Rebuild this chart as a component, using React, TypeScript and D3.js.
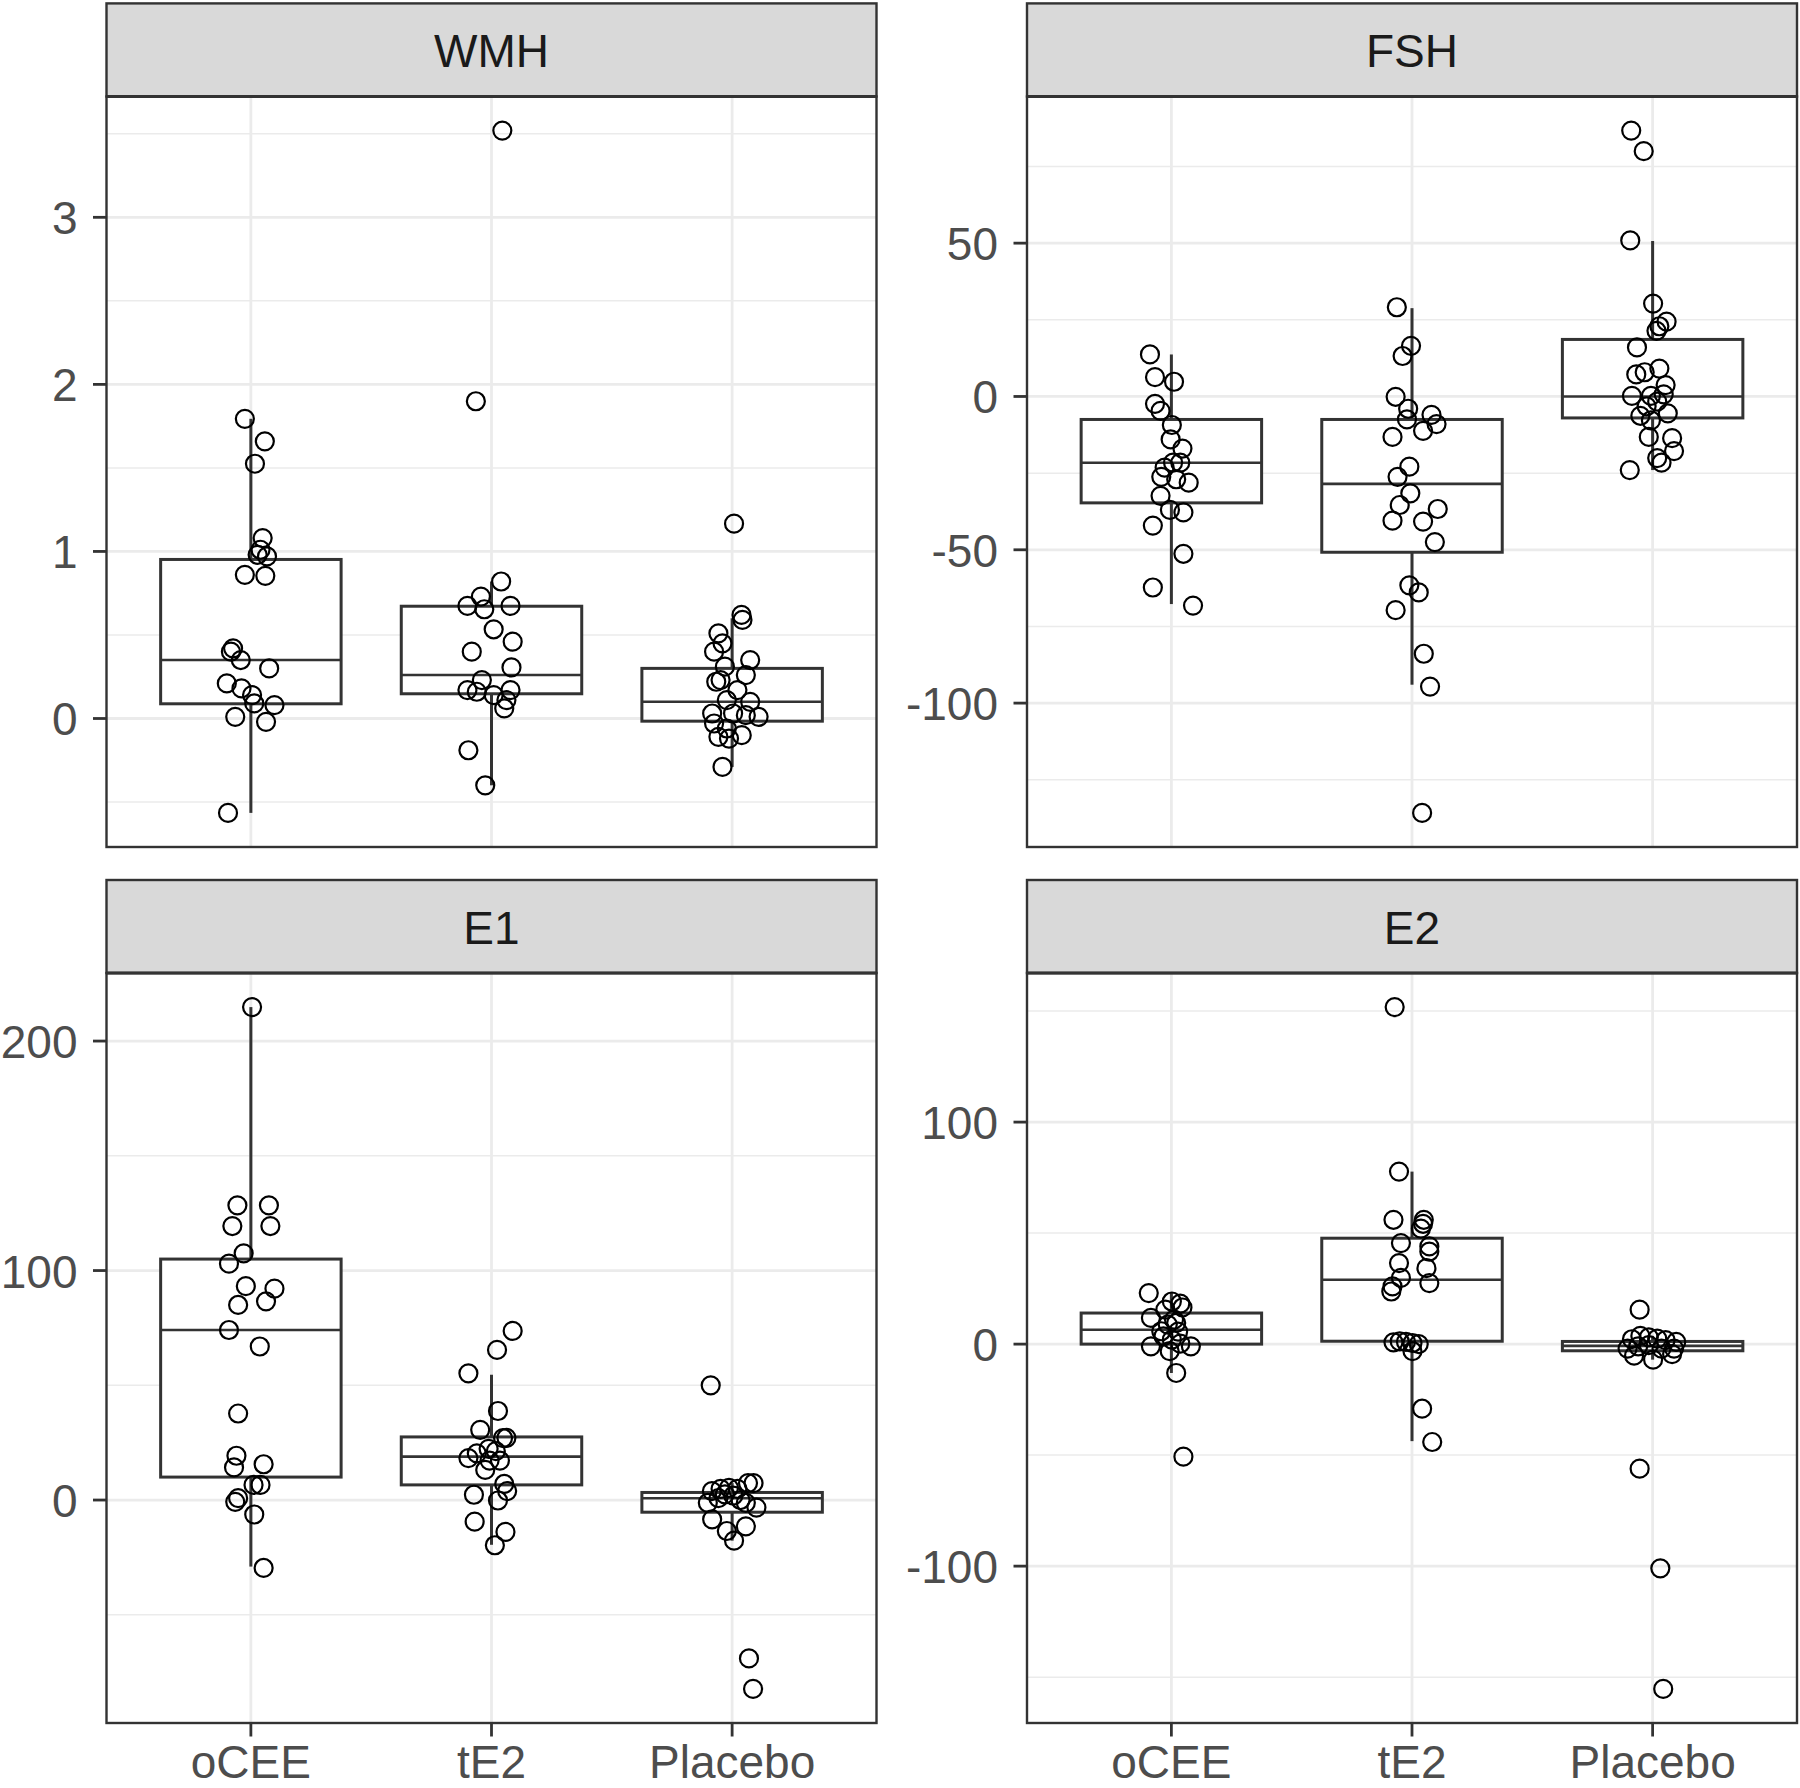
import React, { useEffect } from "react";
import * as d3 from "d3";

// ---------- data ----------
const categories = ["oCEE", "tE2", "Placebo"];
const facetNames = ["WMH", "FSH", "E1", "E2"];

// points: [value, horizontal jitter in category units]
const wmhOcee = [[1.794,-0.025],[1.659,0.058],[1.525,0.017],[1.08,0.049],[1.01,0.04],[0.97,0.067],[0.98,0.028],[0.86,-0.025],[0.854,0.06],[0.42,-0.074],[0.4,-0.083],[0.35,-0.042],[0.3,0.076],[0.21,-0.1],[0.18,-0.039],[0.14,0.005],[0.09,0.014],[0.08,0.098],[0.01,-0.065],[-0.02,0.063],[-0.565,-0.095]];
const wmhTe2 = [[3.519,0.045],[1.899,-0.065],[0.82,0.04],[0.73,-0.044],[0.674,-0.1],[0.654,-0.03],[0.674,0.079],[0.534,0.009],[0.46,0.088],[0.4,-0.082],[0.306,0.083],[0.23,-0.04],[0.17,-0.1],[0.16,-0.061],[0.14,0.009],[0.17,0.079],[0.11,0.062],[0.06,0.053],[-0.19,-0.096],[-0.4,-0.026]];
const wmhPlacebo = [[1.166,0.008],[0.62,0.039],[0.59,0.043],[0.51,-0.057],[0.45,-0.04],[0.4,-0.075],[0.35,0.075],[0.31,-0.03],[0.23,-0.048],[0.22,-0.066],[0.26,0.057],[0.17,0.022],[0.11,-0.022],[0.1,0.075],[0.03,-0.083],[0.01,0.11],[0.02,0.057],[0.03,0.004],[-0.03,-0.075],[-0.06,-0.022],[-0.1,0.04],[-0.11,-0.057],[-0.12,-0.013],[-0.29,-0.04]];

const fshOcee = [[13.7,-0.089],[6.3,-0.068],[4.8,0.011],[-2.4,-0.068],[-4.7,-0.045],[-9.3,0.002],[-14,-0.003],[-17,0.046],[-21.6,0.007],[-21.6,0.037],[-23.2,-0.028],[-26.2,-0.042],[-27,0.02],[-28.1,0.072],[-32.4,-0.045],[-37,-0.006],[-37.8,0.05],[-42.1,-0.077],[-51.3,0.05],[-62.3,-0.077],[-68.2,0.09]];
const fshTe2 = [[29.1,-0.063],[16.5,-0.004],[13.2,-0.039],[-0.1,-0.068],[-4,-0.016],[-6,0.081],[-9,0.102],[-7.5,-0.021],[-11.2,0.046],[-13.2,-0.081],[-22.9,-0.011],[-26.2,-0.06],[-31.6,-0.007],[-35.4,-0.051],[-36.7,0.107],[-40.5,-0.081],[-40.8,0.046],[-47.5,0.095],[-61.6,-0.011],[-63.9,0.028],[-69.7,-0.068],[-83.9,0.049],[-94.6,0.075],[-135.8,0.042]];
const fshPlacebo = [[86.7,-0.089],[80,-0.037],[50.9,-0.093],[30.3,0.002],[24.4,0.058],[22.9,0.028],[21.4,0.016],[16,-0.065],[7.2,-0.068],[9.1,0.028],[7.9,-0.033],[3.7,0.054],[0.2,-0.086],[0.2,-0.007],[0.7,0.046],[-3.2,-0.025],[-1.7,0.019],[-6.3,-0.051],[-5.5,0.063],[-7.8,-0.007],[-13.2,-0.016],[-13.6,0.081],[-17.8,0.089],[-20.1,0.019],[-21.6,0.037],[-24,-0.095]];

const e1Ocee = [[214.8,0.005],[128.4,-0.056],[128.4,0.075],[119.4,-0.077],[119.4,0.081],[107.5,-0.03],[103,-0.091],[93.2,-0.021],[92.1,0.098],[86.6,0.063],[85,-0.053],[74.1,-0.091],[66.9,0.037],[37.7,-0.053],[19.3,-0.06],[14.2,-0.07],[15.6,0.053],[6.6,0.04],[6.6,0.011],[0.8,-0.053],[-0.8,-0.065],[-6.3,0.014],[-29.6,0.053]];
const e1Te2 = [[73.7,0.088],[65.4,0.023],[55.2,-0.096],[38.8,0.027],[30.6,-0.047],[27.1,0.062],[27,0.048],[22.3,-0.012],[21.3,0.018],[20.3,-0.061],[18.3,-0.096],[17.2,-0.008],[17.2,0.035],[13.1,-0.026],[7,0.053],[3.9,0.065],[2.3,-0.073],[-0.2,0.027],[-9.4,-0.07],[-13.9,0.058],[-19.7,0.014]];
const e1Placebo = [[50,-0.089],[3.9,-0.084],[4.9,-0.048],[5.3,-0.013],[4.9,0.022],[7.4,0.066],[7.4,0.089],[-1.2,-0.101],[0.8,-0.057],[1.9,0.005],[-1.2,0.057],[-3.3,0.101],[-8.4,-0.083],[-11.5,0.057],[-13.5,-0.022],[-17.7,0.008],[2.5,-0.03],[0,0.035],[-69,0.07],[-82.3,0.087]];

const e2Ocee = [[23,-0.094],[19.2,0.002],[18.2,0.037],[16.5,0.046],[11.8,-0.085],[11,0.011],[8.8,-0.015],[5.8,-0.042],[5.6,0.028],[2,0.002],[-1,-0.085],[-1,0.081],[-3.2,-0.007],[-13,0.02],[-50.7,0.05],[15.5,-0.025],[9.5,0.02],[3.5,-0.033],[0.2,0.037]];
const e2Te2 = [[151.8,-0.072],[77.7,-0.054],[56,-0.077],[56,0.049],[54.2,0.046],[52,0.037],[45.5,-0.046],[44,0.072],[41.7,0.072],[36.5,-0.054],[34.2,0.06],[29.8,-0.046],[27.5,0.072],[26,-0.081],[23.7,-0.086],[0.8,-0.077],[1.2,-0.051],[1,-0.025],[0.5,0.002],[0,0.028],[-3.2,0.002],[-29.1,0.042],[-44.1,0.084]];
const e2Placebo = [[15.5,-0.054],[2.2,-0.086],[3.7,-0.051],[3,-0.016],[2.5,0.019],[1.8,0.054],[1,0.098],[-2,-0.104],[-1,-0.06],[-0.5,-0.016],[-2,0.037],[-2,0.089],[-7,0.002],[-5.2,-0.077],[-4.5,0.081],[-56.1,-0.054],[-101,0.032],[-155.3,0.044]];

// box stats: [lower whisker, Q1, median, Q3, upper whisker]
const wmhBoxes = [[-0.565,0.088,0.35,0.952,1.794],[-0.4,0.148,0.26,0.672,0.82],[-0.29,-0.016,0.1,0.3,0.6]];
const fshBoxes = [[-67.7,-34.7,-21.6,-7.5,13.7],[-94,-50.8,-28.5,-7.5,28.8],[-24,-7,0,18.6,50.7]];
const e1Boxes = [[-29,10,74.1,105,214.8],[-19.5,6.6,18.9,27.5,54.6],[-17.7,-5.3,0.8,3.3,7.4]];
const e2Boxes = [[-13,0,6.5,14,23],[-43.7,1.3,29,47.7,77.7],[-7,-3,-0.8,1.2,3.7]];

// axis ticks
const wmhTicks = [0, 1, 2, 3];
const wmhMinor = [-0.5, 0.5, 1.5, 2.5, 3.5];
const fshTicks = [-100, -50, 0, 50];
const fshMinor = [-125, -75, -25, 25, 75];
const e1Ticks = [0, 100, 200];
const e1Minor = [-50, 50, 150];
const e2Ticks = [-100, 0, 100];
const e2Minor = [-150, -50, 50, 150];

const panels = [
  { name: facetNames[0], groups: [wmhOcee, wmhTe2, wmhPlacebo], boxes: wmhBoxes, ticks: wmhTicks, minor: wmhMinor },
  { name: facetNames[1], groups: [fshOcee, fshTe2, fshPlacebo], boxes: fshBoxes, ticks: fshTicks, minor: fshMinor },
  { name: facetNames[2], groups: [e1Ocee, e1Te2, e1Placebo], boxes: e1Boxes, ticks: e1Ticks, minor: e1Minor },
  { name: facetNames[3], groups: [e2Ocee, e2Te2, e2Placebo], boxes: e2Boxes, ticks: e2Ticks, minor: e2Minor },
];

// ---------- layout ----------
const W = 1800, H = 1788;
const colX = [[106.5, 876.5], [1027, 1797]];
const rows = [
  { stripTop: 3.4, top: 96.5, bottom: 847 },
  { stripTop: 880, top: 973, bottom: 1723 },
];
const FONT = "'Liberation Sans', Arial, Helvetica, sans-serif";
const FS = 46;
const LW = 2.4;
const BOX_LW = 3;
const DARK = "#333333";

function Panel({ p, col, row }) {
  const [x0, x1] = colX[col];
  const r = rows[row];
  const x = d3.scalePoint().domain(categories).range([x0, x1]).padding(0.6);
  const step = x.step();
  const allVals = [];
  p.groups.forEach((g) => g.forEach((d) => allVals.push(d[0])));
  p.boxes.forEach((b) => { allVals.push(b[0]); allVals.push(b[4]); });
  const [mn, mx] = d3.extent(allVals);
  const pad = (mx - mn) * 0.05;
  const y = d3.scaleLinear().domain([mn - pad, mx + pad]).range([r.bottom, r.top]);
  const inRange = (v) => y(v) >= r.top && y(v) <= r.bottom;
  const bw = step * 0.75;
  const cx = (r.stripTop + r.top) / 2;
  return (
    <g>
      <rect x={x0} y={r.top} width={x1 - x0} height={r.bottom - r.top} fill="#FFFFFF" />
      {p.minor.filter(inRange).map((t) => (
        <line key={"mi" + t} x1={x0} x2={x1} y1={y(t)} y2={y(t)} stroke="#EBEBEB" strokeWidth={LW / 2 + 0.3} />
      ))}
      {p.ticks.map((t) => (
        <line key={"ma" + t} x1={x0} x2={x1} y1={y(t)} y2={y(t)} stroke="#EBEBEB" strokeWidth={LW + 0.4} />
      ))}
      {categories.map((c) => (
        <line key={"vx" + c} x1={x(c)} x2={x(c)} y1={r.top} y2={r.bottom} stroke="#EBEBEB" strokeWidth={LW + 0.4} />
      ))}
      {p.boxes.map((b, i) => {
        const c = x(categories[i]);
        return (
          <g key={"b" + i}>
            <line x1={c} x2={c} y1={y(b[4])} y2={y(b[3])} stroke={DARK} strokeWidth={BOX_LW} />
            <line x1={c} x2={c} y1={y(b[1])} y2={y(b[0])} stroke={DARK} strokeWidth={BOX_LW} />
            <rect x={c - bw / 2} y={y(b[3])} width={bw} height={Math.max(0, y(b[1]) - y(b[3]))} fill="#FFFFFF" stroke={DARK} strokeWidth={BOX_LW} />
            <line x1={c - bw / 2} x2={c + bw / 2} y1={y(b[2])} y2={y(b[2])} stroke={DARK} strokeWidth={BOX_LW - 0.4} />
          </g>
        );
      })}
      {p.groups.map((g, i) =>
        g.map((d, j) => (
          <circle key={"p" + i + "-" + j} cx={x(categories[i]) + d[1] * step} cy={y(d[0])} r={9} fill="none" stroke="#000000" strokeWidth={2.2} />
        ))
      )}
      <rect x={x0} y={r.top} width={x1 - x0} height={r.bottom - r.top} fill="none" stroke={DARK} strokeWidth={LW} />
      <rect x={x0} y={r.stripTop} width={x1 - x0} height={r.top - r.stripTop} fill="#D9D9D9" stroke={DARK} strokeWidth={LW} />
      <line x1={x0} x2={x1} y1={r.top} y2={r.top} stroke={DARK} strokeWidth={LW + 0.8} />
      <text x={(x0 + x1) / 2} y={cx + 17} textAnchor="middle" fontFamily={FONT} fontSize={FS} fill="#1A1A1A">{p.name}</text>
      {p.ticks.map((t) => (
        <g key={"yt" + t}>
          <line x1={x0 - 13.5} x2={x0} y1={y(t)} y2={y(t)} stroke={DARK} strokeWidth={LW + 0.4} />
          <text x={x0 - 29} y={y(t) + 17} textAnchor="end" fontFamily={FONT} fontSize={FS} fill="#4D4D4D">{String(t)}</text>
        </g>
      ))}
      {row === 1 && categories.map((c) => (
        <g key={"xt" + c}>
          <line x1={x(c)} x2={x(c)} y1={r.bottom} y2={r.bottom + 13.5} stroke={DARK} strokeWidth={LW + 0.4} />
          <text x={x(c)} y={r.bottom + 55} textAnchor="middle" fontFamily={FONT} fontSize={FS} fill="#4D4D4D">{c}</text>
        </g>
      ))}
    </g>
  );
}

export default function App() {
  useEffect(() => {
    document.body.style.margin = "0";
    document.body.style.overflow = "hidden";
  }, []);
  return (
    <svg width={W} height={H} viewBox={`0 0 ${W} ${H}`} style={{ position: "absolute", left: 0, top: 0, display: "block" }}>
      <rect x={0} y={0} width={W} height={H} fill="#FFFFFF" />
      {panels.map((p, i) => (
        <Panel key={p.name} p={p} col={i % 2} row={Math.floor(i / 2)} />
      ))}
    </svg>
  );
}
